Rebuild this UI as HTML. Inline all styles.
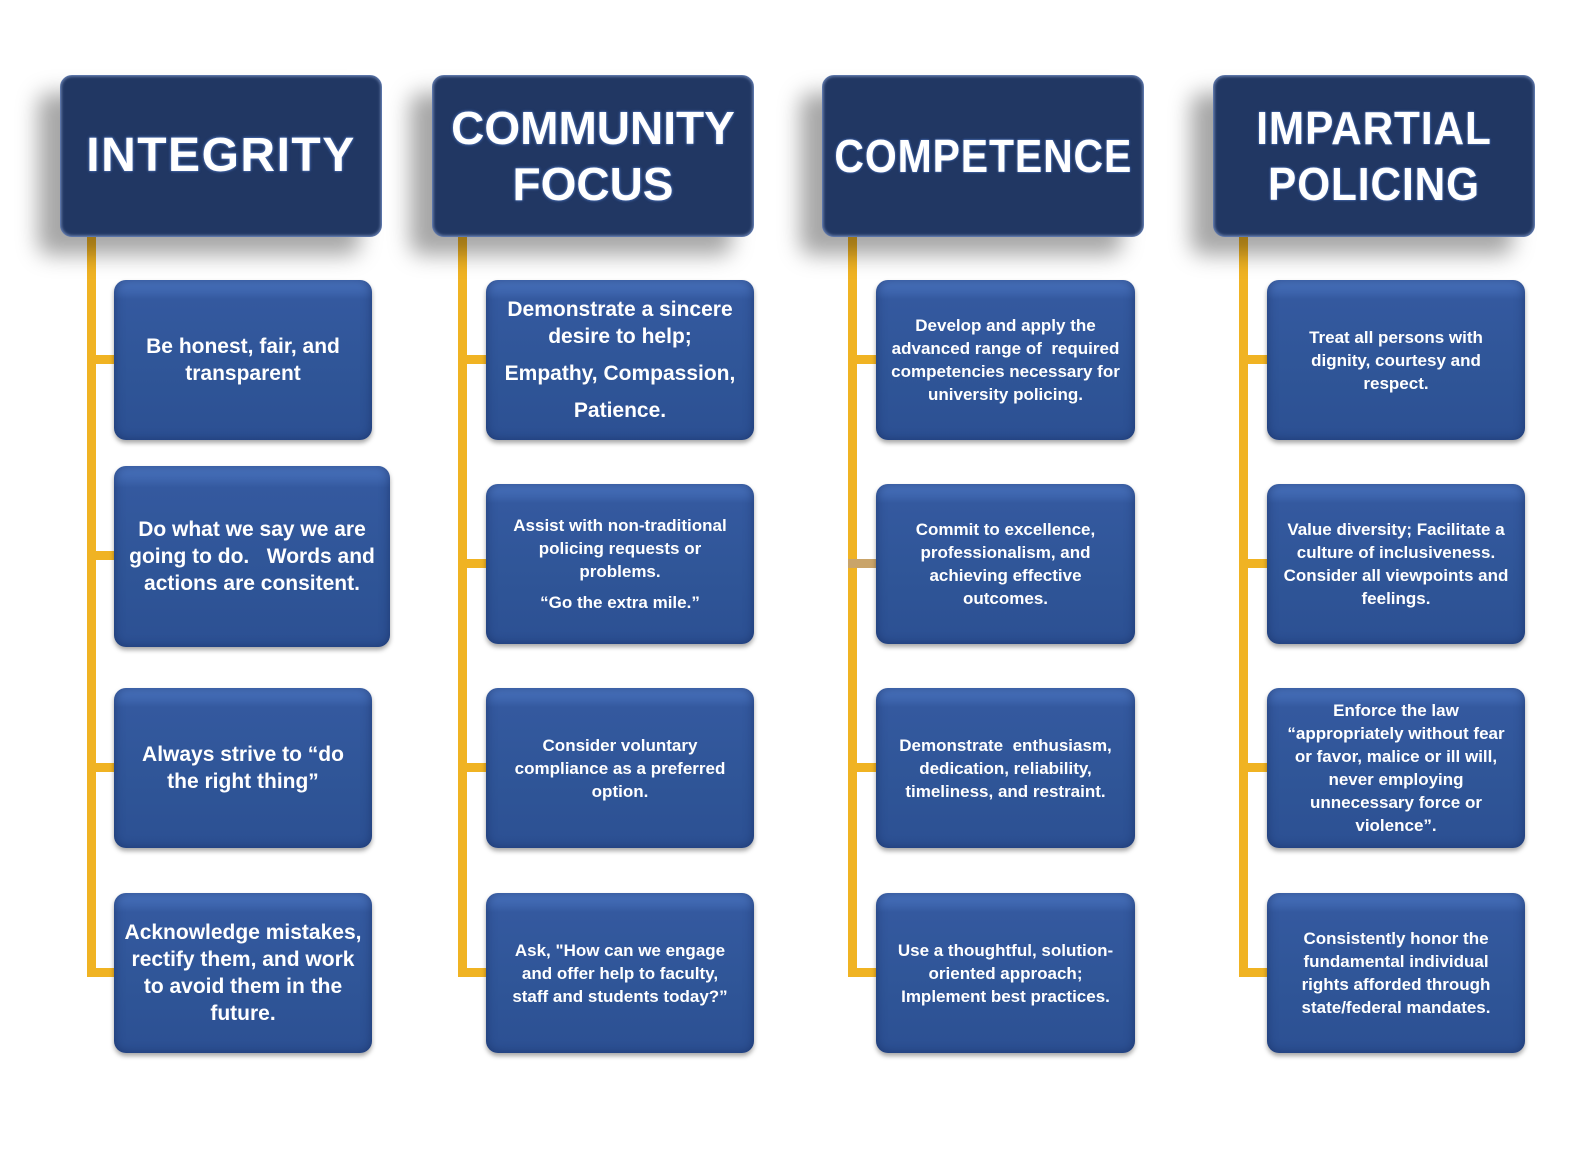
<!DOCTYPE html>
<html><head><meta charset="utf-8"><style>
body{margin:0;width:1581px;height:1159px;background:#fff;position:relative;overflow:hidden;font-family:"Liberation Sans",sans-serif}
.h{position:absolute;width:320px;height:160px;background:#213763;border-radius:12px;border:1px solid #5a74a8;box-shadow:-22px 18px 22px rgba(0,0,0,.35), inset 0 0 3px #8aa0cc;display:flex;align-items:center;justify-content:center;text-align:center;color:#fff;font-weight:bold;font-size:46px;line-height:56px;letter-spacing:1px;text-shadow:0 0 2px #4a6fb5,0 0 3px #4a6fb5}
.h span{display:inline-block;white-space:nowrap}
.b{position:absolute;background:linear-gradient(#4d78c4 0%,#34599f 12%,#2f5597 60%,#2c5093 100%);border-radius:12px;box-shadow:0 3px 5px rgba(0,0,0,.35), inset 0 0 10px rgba(20,40,90,.6);display:flex;align-items:center;justify-content:center;text-align:center;color:#fff;font-weight:bold;box-sizing:border-box;padding:0 8px}
.s{font-size:17px;line-height:23px}
.l{font-size:21px;line-height:27px}
.v{position:absolute;width:9px;background:#f0b323}
.r{position:absolute;height:9px;background:#f0b323}
</style></head><body>
<div class="v" style="left:87px;top:235px;height:742px"></div>
<div class="v" style="left:458px;top:235px;height:742px"></div>
<div class="v" style="left:848px;top:235px;height:742px"></div>
<div class="v" style="left:1239px;top:235px;height:742px"></div>

<div class="r" style="left:87px;top:355px;width:30px"></div>
<div class="r" style="left:87px;top:551px;width:30px"></div>
<div class="r" style="left:87px;top:763px;width:30px"></div>
<div class="r" style="left:87px;top:968px;width:30px"></div>
<div class="r" style="left:458px;top:355px;width:30px"></div>
<div class="r" style="left:458px;top:559px;width:30px"></div>
<div class="r" style="left:458px;top:763px;width:30px"></div>
<div class="r" style="left:458px;top:968px;width:30px"></div>
<div class="r" style="left:848px;top:355px;width:30px"></div>
<div class="r" style="left:848px;top:559px;width:30px;background:#c9a46a"></div>
<div class="r" style="left:848px;top:763px;width:30px"></div>
<div class="r" style="left:848px;top:968px;width:30px"></div>
<div class="r" style="left:1239px;top:355px;width:30px"></div>
<div class="r" style="left:1239px;top:559px;width:30px"></div>
<div class="r" style="left:1239px;top:763px;width:30px"></div>
<div class="r" style="left:1239px;top:968px;width:30px"></div>

<div class="h" style="left:60px;top:75px"><span style="font-size:48px;letter-spacing:1.5px">INTEGRITY</span></div>
<div class="h" style="left:432px;top:75px"><span style="letter-spacing:0">COMMUNITY<br>FOCUS</span></div>
<div class="h" style="left:822px;top:75px"><span style="transform:scaleX(.89)">COMPETENCE</span></div>
<div class="h" style="left:1213px;top:75px"><span style="transform:scaleX(.92)">IMPARTIAL<br>POLICING</span></div>

<div class="b l" style="left:114px;top:280px;width:258px;height:160px">Be honest, fair, and transparent</div>
<div class="b l" style="left:114px;top:466px;width:276px;height:181px">Do what we say we are going to do.&nbsp;&nbsp; Words and actions are consitent.</div>
<div class="b l" style="left:114px;top:688px;width:258px;height:160px;padding:0 22px">Always strive to “do the right thing”</div>
<div class="b l" style="left:114px;top:893px;width:258px;height:160px;padding:0 5px">Acknowledge mistakes, rectify them, and work to avoid them in the future.</div>

<div class="b l" style="left:486px;top:280px;width:268px;height:160px"><div>Demonstrate a sincere desire to help;<div style="margin-top:10px">Empathy, Compassion,</div><div style="margin-top:10px">Patience.</div></div></div>
<div class="b s" style="left:486px;top:484px;width:268px;height:160px;padding:0 16px"><div>Assist with non-traditional policing requests or problems.<div style="margin-top:8px">“Go the extra mile.”</div></div></div>
<div class="b s" style="left:486px;top:688px;width:268px;height:160px;padding:0 20px">Consider voluntary compliance as a preferred option.</div>
<div class="b s" style="left:486px;top:893px;width:268px;height:160px;padding:0 18px">Ask, "How can we engage and offer help to faculty, staff and students today?”</div>

<div class="b s" style="left:876px;top:280px;width:259px;height:160px">Develop and apply the advanced range of&nbsp; required competencies necessary for university policing.</div>
<div class="b s" style="left:876px;top:484px;width:259px;height:160px;padding:0 20px">Commit to excellence, professionalism, and achieving effective outcomes.</div>
<div class="b s" style="left:876px;top:688px;width:259px;height:160px">Demonstrate&nbsp; enthusiasm, dedication, reliability, timeliness, and restraint.</div>
<div class="b s" style="left:876px;top:893px;width:259px;height:160px">Use a thoughtful, solution-oriented approach; Implement best practices.</div>

<div class="b s" style="left:1267px;top:280px;width:258px;height:160px;padding:0 24px">Treat all persons with dignity, courtesy and respect.</div>
<div class="b s" style="left:1267px;top:484px;width:258px;height:160px">Value diversity; Facilitate a culture of inclusiveness. Consider all viewpoints and feelings.</div>
<div class="b s" style="left:1267px;top:688px;width:258px;height:160px;padding:0 14px">Enforce the law “appropriately without fear or favor, malice or ill will, never employing unnecessary force or violence”.</div>
<div class="b s" style="left:1267px;top:893px;width:258px;height:160px;padding:0 20px">Consistently honor the fundamental individual rights afforded through state/federal mandates.</div>
</body></html>
